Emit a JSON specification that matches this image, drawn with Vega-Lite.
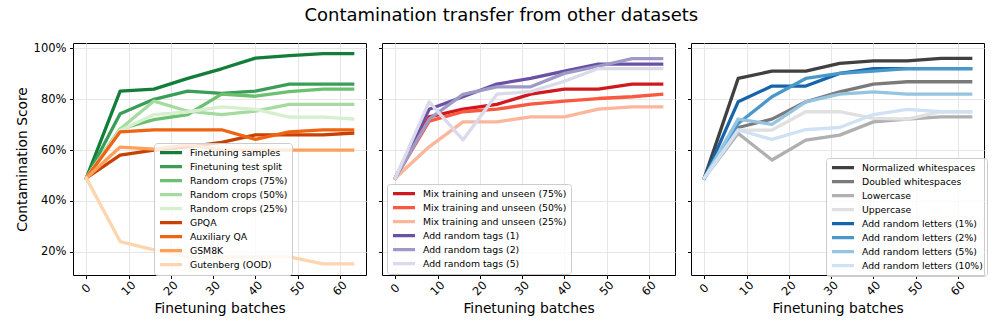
{
  "$schema": "https://vega.github.io/schema/vega-lite/v6.json",
  "padding": {"left": 14, "top": 6, "right": 13, "bottom": 4},
  "title": {"text": "Contamination transfer from other datasets", "fontSize": 18, "fontWeight": "normal", "anchor": "middle", "frame": "bounds", "offset": 17, "color": "#000", "font": "DejaVu Sans"},
  "bounds": "flush",
  "spacing": 16,
  "data": {"values": [
    {"p":1,"s":"Finetuning samples","x":0,"y":49},{"p":1,"s":"Finetuning samples","x":8,"y":83.2},{"p":1,"s":"Finetuning samples","x":16,"y":84},{"p":1,"s":"Finetuning samples","x":24,"y":88.2},{"p":1,"s":"Finetuning samples","x":32,"y":92},{"p":1,"s":"Finetuning samples","x":40,"y":96.2},{"p":1,"s":"Finetuning samples","x":48,"y":97.2},{"p":1,"s":"Finetuning samples","x":56,"y":98},{"p":1,"s":"Finetuning samples","x":63,"y":98},
    {"p":1,"s":"Finetuning test split","x":0,"y":49},{"p":1,"s":"Finetuning test split","x":8,"y":74.3},{"p":1,"s":"Finetuning test split","x":16,"y":80},{"p":1,"s":"Finetuning test split","x":24,"y":83.2},{"p":1,"s":"Finetuning test split","x":32,"y":82.3},{"p":1,"s":"Finetuning test split","x":40,"y":83.2},{"p":1,"s":"Finetuning test split","x":48,"y":86},{"p":1,"s":"Finetuning test split","x":56,"y":86},{"p":1,"s":"Finetuning test split","x":63,"y":86},
    {"p":1,"s":"Random crops (75%)","x":0,"y":49},{"p":1,"s":"Random crops (75%)","x":8,"y":68.3},{"p":1,"s":"Random crops (75%)","x":16,"y":72},{"p":1,"s":"Random crops (75%)","x":24,"y":74},{"p":1,"s":"Random crops (75%)","x":32,"y":82},{"p":1,"s":"Random crops (75%)","x":40,"y":81.2},{"p":1,"s":"Random crops (75%)","x":48,"y":83},{"p":1,"s":"Random crops (75%)","x":56,"y":84},{"p":1,"s":"Random crops (75%)","x":63,"y":84},
    {"p":1,"s":"Random crops (50%)","x":0,"y":49},{"p":1,"s":"Random crops (50%)","x":8,"y":68.3},{"p":1,"s":"Random crops (50%)","x":16,"y":79.3},{"p":1,"s":"Random crops (50%)","x":24,"y":75.3},{"p":1,"s":"Random crops (50%)","x":32,"y":74},{"p":1,"s":"Random crops (50%)","x":40,"y":75.3},{"p":1,"s":"Random crops (50%)","x":48,"y":78},{"p":1,"s":"Random crops (50%)","x":56,"y":78},{"p":1,"s":"Random crops (50%)","x":63,"y":78},
    {"p":1,"s":"Random crops (25%)","x":0,"y":49},{"p":1,"s":"Random crops (25%)","x":8,"y":67.7},{"p":1,"s":"Random crops (25%)","x":16,"y":74},{"p":1,"s":"Random crops (25%)","x":24,"y":75},{"p":1,"s":"Random crops (25%)","x":32,"y":77},{"p":1,"s":"Random crops (25%)","x":40,"y":76},{"p":1,"s":"Random crops (25%)","x":48,"y":73},{"p":1,"s":"Random crops (25%)","x":56,"y":73},{"p":1,"s":"Random crops (25%)","x":63,"y":72.2},
    {"p":1,"s":"GPQA","x":0,"y":49},{"p":1,"s":"GPQA","x":8,"y":58},{"p":1,"s":"GPQA","x":16,"y":60},{"p":1,"s":"GPQA","x":24,"y":61.3},{"p":1,"s":"GPQA","x":32,"y":63},{"p":1,"s":"GPQA","x":40,"y":66},{"p":1,"s":"GPQA","x":48,"y":66},{"p":1,"s":"GPQA","x":56,"y":66},{"p":1,"s":"GPQA","x":63,"y":66.7},
    {"p":1,"s":"Auxiliary QA","x":0,"y":49},{"p":1,"s":"Auxiliary QA","x":8,"y":67.2},{"p":1,"s":"Auxiliary QA","x":16,"y":68},{"p":1,"s":"Auxiliary QA","x":24,"y":68},{"p":1,"s":"Auxiliary QA","x":32,"y":68},{"p":1,"s":"Auxiliary QA","x":40,"y":64.2},{"p":1,"s":"Auxiliary QA","x":48,"y":67.2},{"p":1,"s":"Auxiliary QA","x":56,"y":68},{"p":1,"s":"Auxiliary QA","x":63,"y":68},
    {"p":1,"s":"GSM8K","x":0,"y":49},{"p":1,"s":"GSM8K","x":8,"y":61.2},{"p":1,"s":"GSM8K","x":16,"y":60.4},{"p":1,"s":"GSM8K","x":24,"y":62.2},{"p":1,"s":"GSM8K","x":32,"y":60},{"p":1,"s":"GSM8K","x":40,"y":60},{"p":1,"s":"GSM8K","x":48,"y":60},{"p":1,"s":"GSM8K","x":56,"y":60},{"p":1,"s":"GSM8K","x":63,"y":60},
    {"p":1,"s":"Gutenberg (OOD)","x":0,"y":49},{"p":1,"s":"Gutenberg (OOD)","x":8,"y":24},{"p":1,"s":"Gutenberg (OOD)","x":16,"y":20.7},{"p":1,"s":"Gutenberg (OOD)","x":24,"y":18},{"p":1,"s":"Gutenberg (OOD)","x":32,"y":18},{"p":1,"s":"Gutenberg (OOD)","x":40,"y":18},{"p":1,"s":"Gutenberg (OOD)","x":48,"y":18},{"p":1,"s":"Gutenberg (OOD)","x":56,"y":15.2},{"p":1,"s":"Gutenberg (OOD)","x":63,"y":15.2},
    {"p":2,"s":"Mix training and unseen (75%)","x":0,"y":49},{"p":2,"s":"Mix training and unseen (75%)","x":8,"y":73.1},{"p":2,"s":"Mix training and unseen (75%)","x":16,"y":76.1},{"p":2,"s":"Mix training and unseen (75%)","x":24,"y":78},{"p":2,"s":"Mix training and unseen (75%)","x":32,"y":82},{"p":2,"s":"Mix training and unseen (75%)","x":40,"y":84},{"p":2,"s":"Mix training and unseen (75%)","x":48,"y":84},{"p":2,"s":"Mix training and unseen (75%)","x":56,"y":86},{"p":2,"s":"Mix training and unseen (75%)","x":63,"y":86},
    {"p":2,"s":"Mix training and unseen (50%)","x":0,"y":49},{"p":2,"s":"Mix training and unseen (50%)","x":8,"y":71.4},{"p":2,"s":"Mix training and unseen (50%)","x":16,"y":75.1},{"p":2,"s":"Mix training and unseen (50%)","x":24,"y":76.1},{"p":2,"s":"Mix training and unseen (50%)","x":32,"y":78.1},{"p":2,"s":"Mix training and unseen (50%)","x":40,"y":79.3},{"p":2,"s":"Mix training and unseen (50%)","x":48,"y":80.3},{"p":2,"s":"Mix training and unseen (50%)","x":56,"y":81},{"p":2,"s":"Mix training and unseen (50%)","x":63,"y":82},
    {"p":2,"s":"Mix training and unseen (25%)","x":0,"y":49},{"p":2,"s":"Mix training and unseen (25%)","x":8,"y":61.3},{"p":2,"s":"Mix training and unseen (25%)","x":16,"y":71.1},{"p":2,"s":"Mix training and unseen (25%)","x":24,"y":71.1},{"p":2,"s":"Mix training and unseen (25%)","x":32,"y":73.1},{"p":2,"s":"Mix training and unseen (25%)","x":40,"y":73.1},{"p":2,"s":"Mix training and unseen (25%)","x":48,"y":76.1},{"p":2,"s":"Mix training and unseen (25%)","x":56,"y":77},{"p":2,"s":"Mix training and unseen (25%)","x":63,"y":77},
    {"p":2,"s":"Add random tags (1)","x":0,"y":49},{"p":2,"s":"Add random tags (1)","x":8,"y":76.1},{"p":2,"s":"Add random tags (1)","x":16,"y":81},{"p":2,"s":"Add random tags (1)","x":24,"y":86},{"p":2,"s":"Add random tags (1)","x":32,"y":88.2},{"p":2,"s":"Add random tags (1)","x":40,"y":91.1},{"p":2,"s":"Add random tags (1)","x":48,"y":93.8},{"p":2,"s":"Add random tags (1)","x":56,"y":93.8},{"p":2,"s":"Add random tags (1)","x":63,"y":93.8},
    {"p":2,"s":"Add random tags (2)","x":0,"y":49},{"p":2,"s":"Add random tags (2)","x":8,"y":72.2},{"p":2,"s":"Add random tags (2)","x":16,"y":81.9},{"p":2,"s":"Add random tags (2)","x":24,"y":84.9},{"p":2,"s":"Add random tags (2)","x":32,"y":84.9},{"p":2,"s":"Add random tags (2)","x":40,"y":90.2},{"p":2,"s":"Add random tags (2)","x":48,"y":93},{"p":2,"s":"Add random tags (2)","x":56,"y":96},{"p":2,"s":"Add random tags (2)","x":63,"y":96},
    {"p":2,"s":"Add random tags (5)","x":0,"y":49},{"p":2,"s":"Add random tags (5)","x":8,"y":79},{"p":2,"s":"Add random tags (5)","x":16,"y":64},{"p":2,"s":"Add random tags (5)","x":24,"y":82},{"p":2,"s":"Add random tags (5)","x":32,"y":83},{"p":2,"s":"Add random tags (5)","x":40,"y":87.1},{"p":2,"s":"Add random tags (5)","x":48,"y":92.1},{"p":2,"s":"Add random tags (5)","x":56,"y":92.1},{"p":2,"s":"Add random tags (5)","x":63,"y":92.1},
    {"p":3,"s":"Normalized whitespaces","x":0,"y":49},{"p":3,"s":"Normalized whitespaces","x":8,"y":88.2},{"p":3,"s":"Normalized whitespaces","x":16,"y":91.1},{"p":3,"s":"Normalized whitespaces","x":24,"y":91.1},{"p":3,"s":"Normalized whitespaces","x":32,"y":94.1},{"p":3,"s":"Normalized whitespaces","x":40,"y":95.1},{"p":3,"s":"Normalized whitespaces","x":48,"y":95.1},{"p":3,"s":"Normalized whitespaces","x":56,"y":96.1},{"p":3,"s":"Normalized whitespaces","x":63,"y":96.1},
    {"p":3,"s":"Doubled whitespaces","x":0,"y":49},{"p":3,"s":"Doubled whitespaces","x":8,"y":68.9},{"p":3,"s":"Doubled whitespaces","x":16,"y":72.2},{"p":3,"s":"Doubled whitespaces","x":24,"y":79},{"p":3,"s":"Doubled whitespaces","x":32,"y":82.9},{"p":3,"s":"Doubled whitespaces","x":40,"y":86},{"p":3,"s":"Doubled whitespaces","x":48,"y":86.9},{"p":3,"s":"Doubled whitespaces","x":56,"y":86.9},{"p":3,"s":"Doubled whitespaces","x":63,"y":86.9},
    {"p":3,"s":"Lowercase","x":0,"y":49},{"p":3,"s":"Lowercase","x":8,"y":66.6},{"p":3,"s":"Lowercase","x":16,"y":56.1},{"p":3,"s":"Lowercase","x":24,"y":63.9},{"p":3,"s":"Lowercase","x":32,"y":65.9},{"p":3,"s":"Lowercase","x":40,"y":71.1},{"p":3,"s":"Lowercase","x":48,"y":72.2},{"p":3,"s":"Lowercase","x":56,"y":73.1},{"p":3,"s":"Lowercase","x":63,"y":73.1},
    {"p":3,"s":"Uppercase","x":0,"y":49},{"p":3,"s":"Uppercase","x":8,"y":67.9},{"p":3,"s":"Uppercase","x":16,"y":67.9},{"p":3,"s":"Uppercase","x":24,"y":75.1},{"p":3,"s":"Uppercase","x":32,"y":75.1},{"p":3,"s":"Uppercase","x":40,"y":72.5},{"p":3,"s":"Uppercase","x":48,"y":72.2},{"p":3,"s":"Uppercase","x":56,"y":75.1},{"p":3,"s":"Uppercase","x":63,"y":75.1},
    {"p":3,"s":"Add random letters (1%)","x":0,"y":49},{"p":3,"s":"Add random letters (1%)","x":8,"y":79},{"p":3,"s":"Add random letters (1%)","x":16,"y":85.2},{"p":3,"s":"Add random letters (1%)","x":24,"y":85.2},{"p":3,"s":"Add random letters (1%)","x":32,"y":90.2},{"p":3,"s":"Add random letters (1%)","x":40,"y":92.1},{"p":3,"s":"Add random letters (1%)","x":48,"y":92.1},{"p":3,"s":"Add random letters (1%)","x":56,"y":92.1},{"p":3,"s":"Add random letters (1%)","x":63,"y":92.1},
    {"p":3,"s":"Add random letters (2%)","x":0,"y":49},{"p":3,"s":"Add random letters (2%)","x":8,"y":70.5},{"p":3,"s":"Add random letters (2%)","x":16,"y":81},{"p":3,"s":"Add random letters (2%)","x":24,"y":88.2},{"p":3,"s":"Add random letters (2%)","x":32,"y":90.2},{"p":3,"s":"Add random letters (2%)","x":40,"y":91.1},{"p":3,"s":"Add random letters (2%)","x":48,"y":92.1},{"p":3,"s":"Add random letters (2%)","x":56,"y":92.1},{"p":3,"s":"Add random letters (2%)","x":63,"y":92.1},
    {"p":3,"s":"Add random letters (5%)","x":0,"y":49},{"p":3,"s":"Add random letters (5%)","x":8,"y":72.2},{"p":3,"s":"Add random letters (5%)","x":16,"y":70.1},{"p":3,"s":"Add random letters (5%)","x":24,"y":79},{"p":3,"s":"Add random letters (5%)","x":32,"y":82},{"p":3,"s":"Add random letters (5%)","x":40,"y":82.9},{"p":3,"s":"Add random letters (5%)","x":48,"y":82},{"p":3,"s":"Add random letters (5%)","x":56,"y":82},{"p":3,"s":"Add random letters (5%)","x":63,"y":82},
    {"p":3,"s":"Add random letters (10%)","x":0,"y":49},{"p":3,"s":"Add random letters (10%)","x":8,"y":67.9},{"p":3,"s":"Add random letters (10%)","x":16,"y":64.2},{"p":3,"s":"Add random letters (10%)","x":24,"y":68.1},{"p":3,"s":"Add random letters (10%)","x":32,"y":68.9},{"p":3,"s":"Add random letters (10%)","x":40,"y":74},{"p":3,"s":"Add random letters (10%)","x":48,"y":76},{"p":3,"s":"Add random letters (10%)","x":56,"y":75.1},{"p":3,"s":"Add random letters (10%)","x":63,"y":75.1}
  ]},
  "hconcat": [
    {
      "width": 293, "height": 232,
      "transform": [{"filter": "datum.p == 1"}],
      "mark": {"type": "line", "strokeWidth": 3.3, "strokeCap": "square", "strokeJoin": "round"},
      "encoding": {
        "x": {"field": "x", "type": "quantitative", "scale": {"domain": [-3.15, 66.15], "nice": false, "zero": false}, "axis": {"values": [0,10,20,30,40,50,60], "labelAngle": -45, "labelAlign": "center", "labelBaseline": "middle", "labelPadding": 10, "title": "Finetuning batches", "titlePadding": 4}},
        "y": {"field": "y", "type": "quantitative", "scale": {"domain": [10.85, 102.15], "nice": false, "zero": false}, "axis": {"values": [20,40,60,80,100], "labelExpr": "datum.value + '%'", "title": "Contamination Score", "labelPadding": 3.5, "titlePadding": 4}},
        "color": {"field": "s", "type": "nominal", "scale": {"domain": ["Finetuning samples","Finetuning test split","Random crops (75%)","Random crops (50%)","Random crops (25%)","GPQA","Auxiliary QA","GSM8K","Gutenberg (OOD)"], "range": ["#137e3a","#3a9e58","#6cc070","#a6db9f","#d5efcf","#c84103","#ee6410","#fda05a","#fdd5ae"]}, "legend": {"orient": "none", "legendX": 81, "legendY": 100, "title": null}}
      }
    },
    {
      "width": 293, "height": 232,
      "transform": [{"filter": "datum.p == 2"}],
      "mark": {"type": "line", "strokeWidth": 3.3, "strokeCap": "square", "strokeJoin": "round"},
      "encoding": {
        "x": {"field": "x", "type": "quantitative", "scale": {"domain": [-3.15, 66.15], "nice": false, "zero": false}, "axis": {"values": [0,10,20,30,40,50,60], "labelAngle": -45, "labelAlign": "center", "labelBaseline": "middle", "labelPadding": 10, "title": "Finetuning batches", "titlePadding": 4}},
        "y": {"field": "y", "type": "quantitative", "scale": {"domain": [10.85, 102.15], "nice": false, "zero": false}, "axis": {"values": [20,40,60,80,100], "labels": false, "title": null}},
        "color": {"field": "s", "type": "nominal", "scale": {"domain": ["Mix training and unseen (75%)","Mix training and unseen (50%)","Mix training and unseen (25%)","Add random tags (1)","Add random tags (2)","Add random tags (5)"], "range": ["#d0181f","#f8593f","#fcb69b","#6a51a3","#9e9ac8","#dadaeb"]}, "legend": {"orient": "none", "legendX": 5, "legendY": 141, "title": null}}
      }
    },
    {
      "width": 293, "height": 232,
      "transform": [{"filter": "datum.p == 3"}],
      "mark": {"type": "line", "strokeWidth": 3.3, "strokeCap": "square", "strokeJoin": "round"},
      "encoding": {
        "x": {"field": "x", "type": "quantitative", "scale": {"domain": [-3.15, 66.15], "nice": false, "zero": false}, "axis": {"values": [0,10,20,30,40,50,60], "labelAngle": -45, "labelAlign": "center", "labelBaseline": "middle", "labelPadding": 10, "title": "Finetuning batches", "titlePadding": 4}},
        "y": {"field": "y", "type": "quantitative", "scale": {"domain": [10.85, 102.15], "nice": false, "zero": false}, "axis": {"values": [20,40,60,80,100], "labels": false, "title": null}},
        "color": {"field": "s", "type": "nominal", "scale": {"domain": ["Normalized whitespaces","Doubled whitespaces","Lowercase","Uppercase","Add random letters (1%)","Add random letters (2%)","Add random letters (5%)","Add random letters (10%)"], "range": ["#404040","#7a7a7a","#b0b0b0","#e0e0e0","#1764ab","#4a98c9","#94c4df","#cfe1f2"]}, "legend": {"orient": "none", "legendX": 135, "legendY": 115, "title": null}}
      }
    }
  ],
  "resolve": {"scale": {"color": "independent"}, "legend": {"color": "independent"}},
  "config": {
    "font": "DejaVu Sans",
    "view": {"stroke": "#000", "strokeWidth": 1},
    "axis": {"domain": false, "gridColor": "#e6e6e6", "gridWidth": 1, "tickColor": "#000", "tickSize": 3.5, "tickWidth": 1, "labelColor": "#000", "titleColor": "#000", "labelFontSize": 11.5, "titleFontSize": 13.8, "titleFontWeight": "normal", "labelFont": "DejaVu Sans", "titleFont": "DejaVu Sans"},
    "legend": {"symbolType": "stroke", "symbolStrokeWidth": 3.3, "symbolSize": 484, "labelFontSize": 9.3, "labelFont": "DejaVu Sans", "labelColor": "#000", "labelOffset": 6, "clipHeight": 11.3, "rowPadding": 2, "padding": 4, "fillColor": "rgba(255,255,255,0.8)", "strokeColor": "#cccccc", "cornerRadius": 3, "labelLimit": 300}
  }
}
